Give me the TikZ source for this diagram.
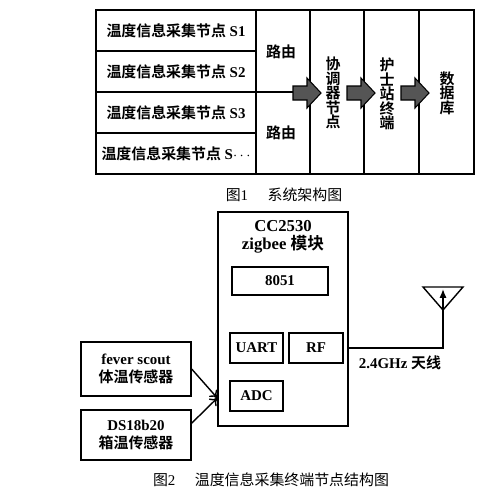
\documentclass[tikz,border=0pt]{standalone}
\usepackage{fontspec}
\setmainfont{Liberation Serif}
\newfontfamily\cjk{Noto Sans CJK SC}[BoldFont={Noto Sans CJK SC Bold}]
\newcommand{\zh}[1]{{\cjk #1}}
\usepackage{tikz}
\usetikzlibrary{positioning,arrows.meta}
\definecolor{arrowgray}{RGB}{85,85,85}

\begin{document}
\begin{tikzpicture}[x=0.02cm, y=-0.02cm, line width=0.8pt,
        cell/.style={font=\fontsize{8.5}{10}\selectfont\bfseries, inner sep=0pt},
        vtext/.style={font=\fontsize{8.5}{8.2}\selectfont\bfseries\cjk, align=center, inner sep=0pt},
        figcap/.style={font=\fontsize{8.5}{10}\selectfont, inner sep=0pt},
        box/.style={draw, font=\fontsize{8.5}{10.5}\selectfont\bfseries, align=center, inner sep=0pt}]
        \useasboundingbox (0,0) rectangle (500,488);
        % Figure 1: system architecture
        \draw (96,10) rectangle (474,174);
        \foreach \x in {256,310,364,419}
            \draw (\x,10) -- (\x,174);
        \foreach \y in {51,92,133}
            \draw (96,\y) -- (256,\y);
        \draw (256,92) -- (310,92);
        \node[cell] (s1) at (176,31) {\zh{温度信息采集节点} S1};
        \node[cell] (s2) at (176,72) {\zh{温度信息采集节点} S2};
        \node[cell] (s3) at (176,113) {\zh{温度信息采集节点} S3};
        \node[cell] (sn) at (176,154) {\zh{温度信息采集节点} S$\cdots$};
        \node[cell] (route1) at (281,52) {\zh{路由}};
        \node[cell] (route2) at (281,133) {\zh{路由}};
        \foreach \x in {293,347,401}
            \filldraw[fill=arrowgray, line width=0.6pt] (\x,86) -- (\x+14,86) -- (\x+14,78)
                -- (\x+28,93) -- (\x+14,108) -- (\x+14,100) -- (\x,100) -- cycle;
        \node[vtext] (coord) at (333,93) {协\\调\\器\\节\\点};
        \node[vtext] (nurse) at (387,94) {护\\士\\站\\终\\端};
        \node[vtext] (db) at (447,93) {数\\据\\库};
        \node[figcap] (cap1) at (284,195) {\zh{图}1\hspace{1.3em}\zh{系统架构图}};
        % Figure 2: terminal node
        \node[box, minimum width=2.6cm, minimum height=4.28cm] (zb) at (283,319) {};
        \node[box, draw=none, font=\fontsize{9.5}{10.5}\selectfont\bfseries] (zbname) at (283,237) {CC2530\\zigbee \zh{模块}};
        \node[box, minimum width=1.92cm, minimum height=0.56cm] (mcu) at (280,281) {8051};
        \node[box, minimum width=1.06cm, minimum height=0.6cm] (uart) at (256.5,348) {UART};
        \node[box, minimum width=1.08cm, minimum height=0.6cm] (rf) at (316,348) {RF};
        \node[box, minimum width=1.06cm, minimum height=0.6cm] (adc) at (256.5,396) {ADC};
        \node[box, minimum width=2.2cm, minimum height=1.08cm] (fever) at (136,369) {fever scout\\\zh{体温传感器}};
        \node[box, minimum width=2.2cm, minimum height=1.0cm] (ds) at (136,435) {DS18b20\\\zh{箱温传感器}};
        \coordinate (adcin) at (zb.west |- 0,398);
        \draw[-{To[length=4pt,width=6pt]}] (fever.east) -- (adcin);
        \draw[-{To[length=4pt,width=6pt]}] (ds.12) -- (adcin);
        % antenna
        \coordinate (antfoot) at (443,348);
        \coordinate (anttip) at (443,289);
        \draw[-{Latex[length=5pt,width=4pt]}] (zb.east |- rf) -- (antfoot) -- (anttip);
        \draw (423,287) -- (463,287) -- (443,310) -- cycle;
        \node[cell] (antlabel) at (400,363) {2.4GHz \zh{天线}};
        \node[figcap] (cap2) at (271,480) {\zh{图}2\hspace{1.3em}\zh{温度信息采集终端节点结构图}};
\end{tikzpicture}
\end{document}
